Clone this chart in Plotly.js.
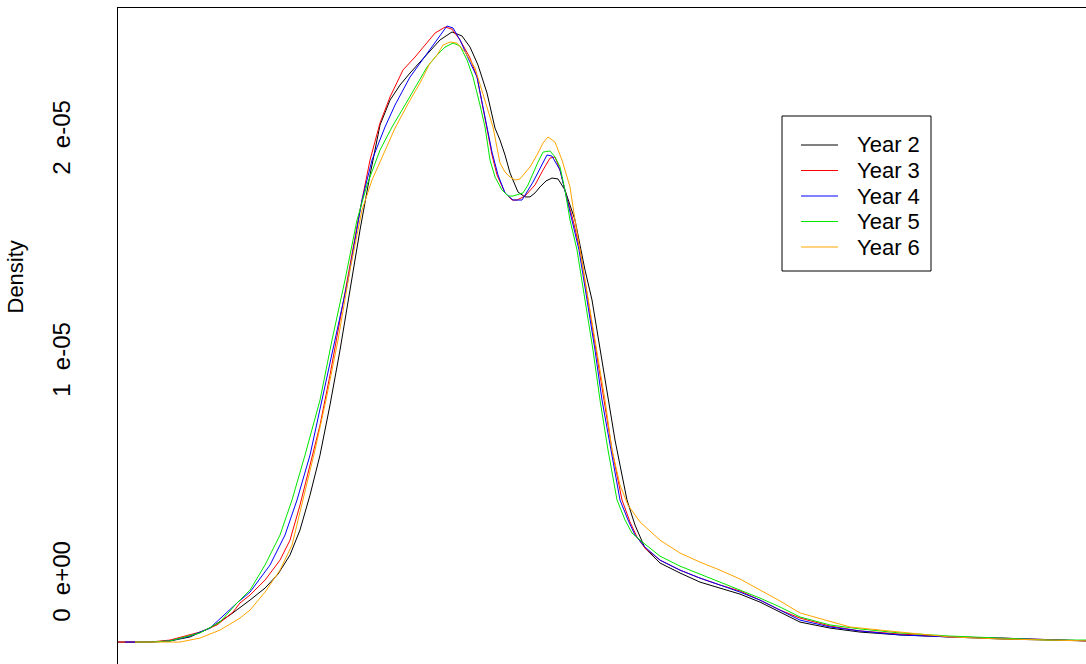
<!DOCTYPE html>
<html>
<head>
<meta charset="utf-8">
<script src="https://cdn.plot.ly/plotly-3.0.1.min.js"></script>
<style>
  html, body { margin: 0; padding: 0; overflow: hidden; background: #fff; }
  #chart { width: 1130px; height: 700px; }
</style>
</head>
<body>
<div id="chart"></div>
<script>
// Density values are in units of 1e-6 (density x 1,000,000); x in arbitrary income units.
const seriesNames = ["Year 2", "Year 3", "Year 4", "Year 5", "Year 6"];
const seriesColors = ["#000000", "#ff0000", "#0000ff", "#00e600", "#ffa500"];

const year2X = [0,3.2,5.2,7.2,9.2,11.2,13.2,14.7,16.0,17.2,18.2,19.2,20.2,21.2,22.2,23.2,24.2,25.2,26.2,27.2,28.2,29.2,30.2,31.2,32.2,33.4,34.4,35.2,36.0,36.9,37.7,38.2,38.7,39.2,40.0,40.7,41.2,41.7,42.2,42.8,43.4,44.0,44.7,45.2,45.7,46.2,46.7,47.4,48.2,49.0,49.7,50.2,50.9,51.7,52.7,54.2,56.2,58.2,60.2,62.2,64.2,66.2,68.2,71.2,74.2,78.2,83.2,88.2,93.2,97.2];
const year2Y = [0,0,0.05,0.23,0.63,1.22,1.89,2.43,3.06,3.92,5.05,6.62,8.42,10.68,13.15,15.86,18.56,21.04,23.29,24.41,25.09,25.63,26.13,26.67,27.12,27.48,27.30,26.80,25.99,24.73,23.15,22.61,21.94,21.13,20.27,20.05,20.05,20.23,20.50,20.77,20.90,20.86,20.36,19.68,19.01,17.88,16.76,15.41,13.15,10.90,9.10,7.97,6.40,5.27,4.23,3.56,3.11,2.70,2.43,2.16,1.80,1.35,0.90,0.63,0.45,0.32,0.23,0.14,0.09,0.05];

const year3X = [0,3.2,5.2,7.2,8.2,9.9,11.5,12.2,13.2,14.7,16.2,17.2,18.2,19.2,20.2,21.2,22.2,23.2,24.2,25.2,26.2,27.2,28.5,29.7,30.7,31.7,32.7,33.4,34.2,35.2,35.9,36.9,37.4,37.9,38.7,39.4,39.9,40.7,41.7,42.5,43.2,43.7,44.2,44.8,45.5,46.2,47.0,47.8,48.6,49.4,50.4,51.2,51.9,52.7,54.2,56.2,58.2,60.2,62.2,64.2,66.2,68.2,71.2,74.2,78.2,83.2,88.2,93.2,97.2];
const year3Y = [0,0,0.09,0.32,0.45,0.77,1.35,1.76,2.12,2.79,3.69,4.59,6.17,7.97,9.77,12.03,14.50,16.98,19.46,21.71,23.38,24.55,25.77,26.35,26.89,27.43,27.70,27.61,27.12,26.31,25.45,23.20,21.94,21.04,20.23,19.91,19.91,20.09,20.59,21.26,21.80,21.85,21.26,20.14,19.01,17.66,15.41,13.15,10.90,8.65,6.40,5.41,4.73,4.23,3.69,3.24,2.88,2.57,2.30,1.89,1.44,1.08,0.72,0.50,0.36,0.23,0.18,0.09,0.05];

const year4X = [0.7,3.2,5.2,7.2,9.2,11.9,13.2,15.2,16.7,17.9,19.2,20.4,21.7,23.0,24.4,25.4,26.7,27.7,29.2,30.2,31.2,32.2,32.9,33.5,34.2,35.0,35.9,36.9,37.4,38.0,38.7,39.5,40.4,41.5,42.2,42.9,43.4,44.2,44.8,45.4,46.1,46.9,47.7,48.4,49.3,50.2,51.0,51.7,52.7,54.2,56.2,58.2,60.2,62.2,64.2,66.2,68.2,71.2,74.2,78.2,83.2,88.2,93.2,97.2];
const year4Y = [0,0,0.05,0.27,0.63,1.76,2.25,3.47,4.82,6.40,8.42,10.90,13.60,16.31,19.91,21.71,23.20,24.19,25.45,26.08,26.67,27.34,27.75,27.66,27.12,26.31,25.45,23.20,22.07,21.04,20.23,19.91,19.91,20.72,21.35,21.94,21.89,21.26,20.14,19.01,17.66,15.41,13.15,10.90,8.65,6.40,5.50,4.82,4.28,3.69,3.24,2.88,2.57,2.25,1.89,1.44,0.99,0.68,0.50,0.32,0.23,0.18,0.09,0.05];

const year5X = [1.7,3.2,5.2,7.2,8.2,10.2,11.9,13.2,14.7,16.2,17.4,18.7,20.2,21.4,22.7,23.9,24.9,26.2,27.4,28.7,29.9,30.9,31.9,32.7,33.5,34.2,34.9,35.5,36.2,36.7,37.2,37.7,38.4,39.0,39.5,40.5,41.0,41.5,42.0,42.5,43.2,43.7,44.2,44.7,45.2,45.9,46.7,47.5,48.2,49.0,49.9,50.7,51.4,52.2,54.2,56.2,58.2,60.2,62.2,64.2,66.2,68.2,71.2,74.2,78.2,83.2,88.2,93.2,97.2];
const year5Y = [0,0,0.05,0.27,0.41,0.90,1.76,2.34,3.47,4.82,6.40,8.42,10.90,13.60,16.31,19.01,20.59,22.16,23.20,24.19,25.09,25.90,26.44,26.80,26.98,26.85,26.22,25.45,24.19,23.20,21.71,20.95,20.36,20.09,20.09,20.23,20.59,21.13,21.62,22.07,22.12,21.85,21.40,20.36,19.01,17.66,15.41,13.15,10.90,8.65,6.40,5.50,4.91,4.59,3.87,3.42,3.06,2.70,2.34,1.98,1.58,1.13,0.77,0.59,0.41,0.27,0.18,0.09,0.09];

const year6X = [1.7,4.2,6.2,8.2,10.2,12.2,13.2,14.7,16.2,17.4,18.5,19.7,20.8,22.0,23.2,24.4,25.4,26.7,27.7,29.2,30.2,31.2,31.9,32.5,33.2,33.9,34.7,35.7,36.7,37.5,38.2,38.7,39.2,39.7,40.2,40.7,41.2,41.9,42.5,43.0,43.7,44.4,45.2,45.7,46.2,47.0,47.9,48.7,49.4,50.2,51.0,52.2,54.2,56.2,58.2,60.2,62.2,64.2,66.2,68.2,73.2,78.2,83.2,88.2,93.2,97.2];
const year6Y = [0,0,0,0.18,0.54,1.08,1.44,2.25,3.24,4.37,6.40,8.65,10.90,13.60,16.76,19.46,20.81,22.16,23.15,24.41,25.18,26.08,26.44,26.89,27.03,26.98,26.58,25.86,24.41,23.20,21.58,21.17,20.95,20.81,20.86,21.13,21.40,21.94,22.48,22.75,22.52,21.71,20.50,19.01,17.66,15.41,13.15,10.90,8.65,7.07,6.17,5.41,4.59,4.01,3.60,3.24,2.84,2.34,1.85,1.31,0.68,0.45,0.23,0.14,0.09,0.05];

const yTickVals = [0, 10, 20];
const yTickText = ["0 e+00", "1 e-05", "2 e-05"];
const yTitle = "Density";

const xs = [year2X, year3X, year4X, year5X, year6X];
const ys = [year2Y, year3Y, year4Y, year5Y, year6Y];

const traces = seriesNames.map((name, i) => ({
  type: "scatter",
  mode: "lines",
  name: name,
  x: xs[i],
  y: ys[i],
  line: { color: seriesColors[i], width: 1, shape: "linear" },
  hoverinfo: "skip",
  showlegend: false
}));

const fontFam = "Liberation Sans, Arial, sans-serif";

// plot-area geometry helpers (page pixels -> paper fractions) for the boxed legend
const L = 118, T = 8, PW = 1012, PH = 692;
const px = p => (p - L) / PW;
const py = p => 1 - (p - T) / PH;

const shapes = [{
  type: "rect", xref: "paper", yref: "paper",
  x0: px(782), x1: px(931), y0: py(271), y1: py(116),
  line: { color: "#000000", width: 1 }, fillcolor: "#ffffff", layer: "above"
}];
const annotations = [{
  text: yTitle,
  xref: "paper", yref: "paper",
  x: px(30), y: py(277),
  xanchor: "right", yanchor: "middle",
  textangle: -90,
  showarrow: false,
  font: { family: fontFam, size: 22, color: "#000000" }
}];
seriesNames.forEach((name, i) => {
  const rowY = py(145 + i * 25.5);
  shapes.push({
    type: "line", xref: "paper", yref: "paper",
    x0: px(801), x1: px(838), y0: rowY, y1: rowY,
    line: { color: seriesColors[i], width: 1 }, layer: "above"
  });
  annotations.push({
    text: name, xref: "paper", yref: "paper",
    x: px(855), y: rowY, xanchor: "left", yanchor: "middle",
    showarrow: false,
    font: { family: fontFam, size: 22, color: "#000000" }
  });
});

const layout = {
  width: 1130,
  height: 700,
  margin: { l: L, r: 0, t: T, b: 0, pad: 0 },
  paper_bgcolor: "#ffffff",
  plot_bgcolor: "#ffffff",
  font: { family: fontFam, color: "#000000" },
  showlegend: false,
  xaxis: {
    range: [0, 101.2],
    showgrid: false, zeroline: false,
    showline: true, linecolor: "#000000", linewidth: 1, mirror: true,
    showticklabels: false, ticks: ""
  },
  yaxis: {
    range: [-2.61, 28.56],
    showgrid: false, zeroline: false,
    showline: true, linecolor: "#000000", linewidth: 1, mirror: true,
    tickmode: "array", tickvals: yTickVals,
    ticktext: yTickText.map(t => t.replace(" ", "\u00a0\u00a0")),
    tickangle: -90,
    ticks: "",
    ticklabelshift: -57,
    ticklabelstandoff: 37,
    tickfont: { family: fontFam, size: 24, color: "#000000" }
  },
  shapes: shapes,
  annotations: annotations
};

Plotly.newPlot("chart", traces, layout, { displayModeBar: false, staticPlot: true });
</script>
</body>
</html>
